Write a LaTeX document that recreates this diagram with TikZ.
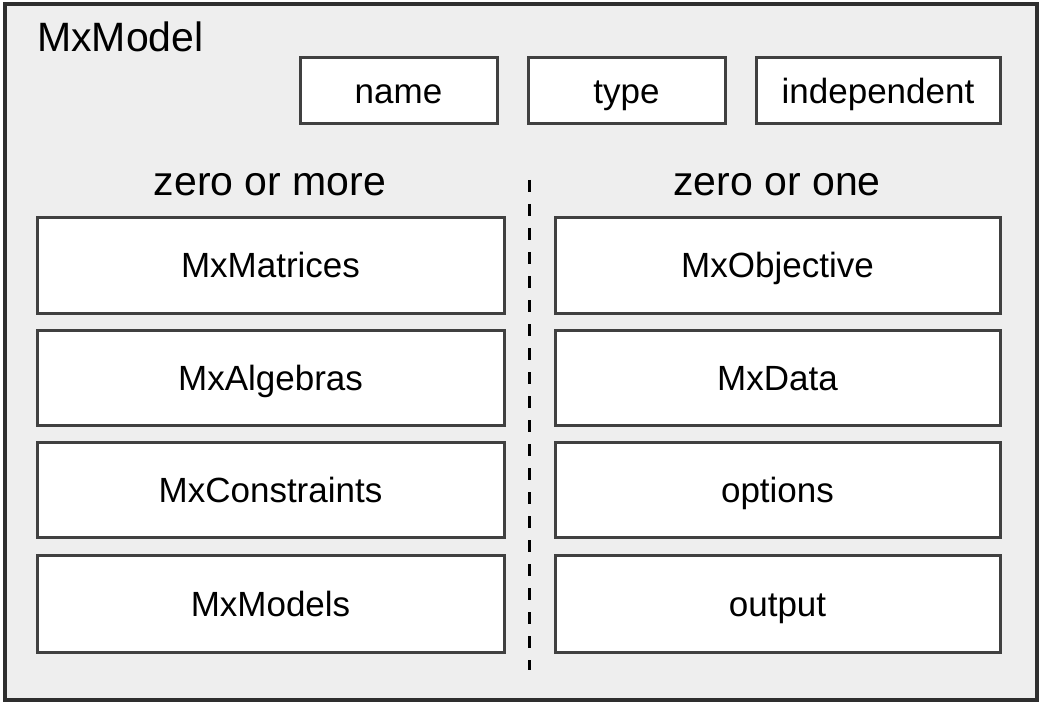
\documentclass[tikz,border=0pt]{standalone}
\usepackage{fontspec}
\setmainfont{Liberation Sans}
\definecolor{bgfill}{HTML}{EEEEEE}
\definecolor{boxline}{HTML}{404040}
\definecolor{outerline}{HTML}{2E2E2E}
\begin{document}
\begin{tikzpicture}[x=1pt,y=-1pt,
  item/.style={draw=boxline, line width=3pt, fill=white, inner sep=0pt, text height=25pt, text depth=0pt, font=\fontsize{35}{40}\selectfont},
  head/.style={inner sep=0pt, font=\fontsize{41}{46}\selectfont}]
\useasboundingbox (0,0) rectangle (1041,703);
\draw[draw=outerline, fill=bgfill, line width=3.5pt] (5,4) rectangle (1037,700);
\node[head, anchor=base west] (title) at (37,52) {MxModel};
% top attribute boxes
\node[item, minimum width=197pt, minimum height=66pt] (name) at (398.5,91) {name};
\node[item, minimum width=197pt, minimum height=66pt] (type) at (626.5,91) {type};
\node[item, minimum width=244pt, minimum height=66pt] (indep) at (878,91) {independent};
% column headers
\node[head, anchor=base] (zmore) at (270,196) {zero or more};
\node[head, anchor=base] (zone) at (777,196) {zero or one};
% left column
\node[item, minimum width=467pt, minimum height=95pt] (mat) at (270.5,265.5) {MxMatrices};
\node[item, minimum width=467pt, minimum height=95pt] (alg) at (270.5,377.5) {MxAlgebras};
\node[item, minimum width=467pt, minimum height=95pt] (con) at (270.5,489.5) {MxConstraints};
\node[item, minimum width=467pt, minimum height=97pt] (mod) at (270.5,604) {MxModels};
% right column
\node[item, minimum width=445pt, minimum height=95pt] (obj) at (777.5,265.5) {MxObjective};
\node[item, minimum width=445pt, minimum height=95pt] (dat) at (777.5,377.5) {MxData};
\node[item, minimum width=445pt, minimum height=95pt] (opt) at (777.5,489.5) {options};
\node[item, minimum width=445pt, minimum height=97pt] (out) at (777.5,604) {output};
% divider
\coordinate (dtop) at (529,180);
\coordinate (dbot) at (529,670);
\draw[line width=3pt, dash pattern=on 12pt off 12pt] (dtop) -- (dbot);
\end{tikzpicture}
\end{document}
